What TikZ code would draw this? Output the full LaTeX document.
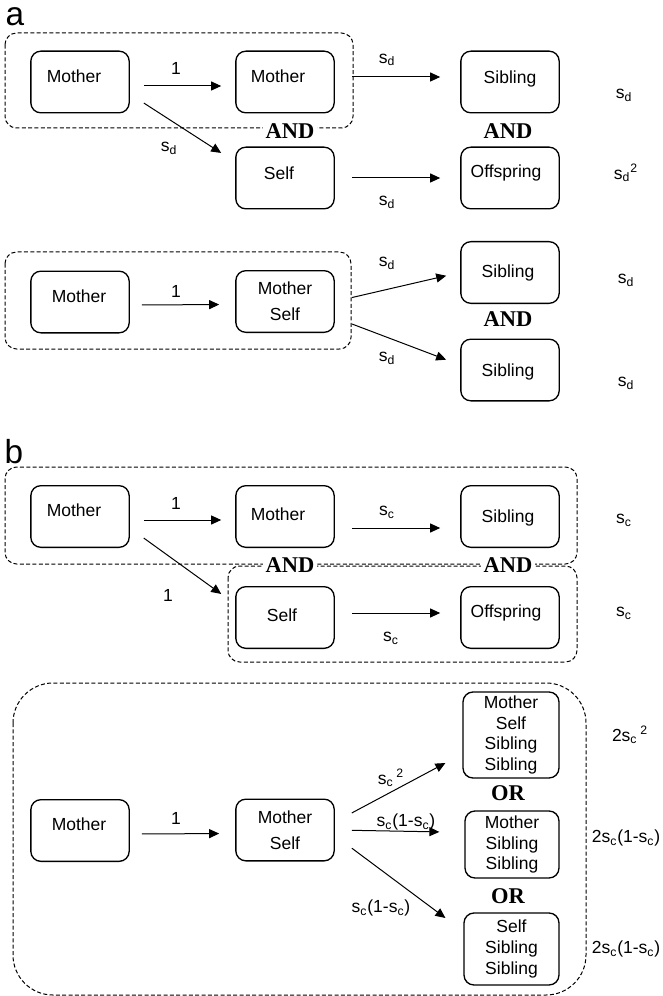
\documentclass[tikz,border=0pt]{standalone}
\usepackage{fontspec}
\setmainfont{Liberation Sans}
\newfontfamily\gatefont{Liberation Serif}
\usetikzlibrary{arrows.meta}
\tikzset{
  box/.style={draw, rounded corners=6pt, line width=0.8pt, minimum width=59pt, minimum height=37pt, inner sep=0pt, align=center},
  group/.style={draw, line width=0.6pt, dash pattern=on 2.4pt off 1.4pt, rounded corners=7pt},
  flow/.style={line width=0.6pt, -{Triangle[length=6pt,width=5.4pt]}},
  gate/.style={fill=white, inner sep=1.5pt, font=\gatefont\bfseries\fontsize{13.5}{15}\selectfont},
  panel/.style={inner sep=0pt, font=\fontsize{20}{24}\selectfont},
}
\newcommand{\sdd}{s\textsubscript{d}}
\newcommand{\scc}{s\textsubscript{c}}
\begin{document}
\begin{tikzpicture}[x=0.6pt, y=-0.6pt, font=\fontsize{10.5}{12.5}\selectfont]
\useasboundingbox (0,0) rectangle (662,996);
% Panel a
\node[panel] (pa) at (15,17) {a};
% Groups of panel a
\draw[group] (5,33) rectangle (353,128);
\draw[group] (5,252) rectangle (351,349);
% Boxes, first case
\node[box] (aM1) at (80,82) {};
\node (aM1t) at (74,76) {Mother};
\node[box] (aM2) at (285,82) {};
\node (aM2t) at (278,76) {Mother};
\node[box] (aSib) at (510,82) {};
\node (aSibt) at (510,79) {Sibling};
\node[box] (aSelf) at (285,178) {};
\node (aSelft) at (279,173) {Self};
\node[box] (aOff) at (510,178) {};
\node (aOfft) at (506,173) {Offspring};
% Boxes, second case
\node[box] (aM3) at (80,302) {};
\node (aM3t) at (79,296) {Mother};
\node[box] (aMS) at (285,301.5) {Mother\\[3pt]Self};
\node[box] (aSib2) at (510,272.5) {};
\node (aSib2t) at (508,273) {Sibling};
\node[box] (aSib3) at (510,370) {};
\node (aSib3t) at (508,372) {Sibling};
% Edges of panel a
\draw[flow, shorten <=8.4pt, shorten >=8.4pt] ([yshift=-2.4pt]aM1.east) -- ([yshift=-2.4pt]aM2.west);
\draw[flow, shorten <=10pt, shorten >=10pt] ([yshift=-7.2pt]aM1.east) -- ([yshift=9.6pt]aSelf.west);
\draw[flow, shorten <=10.2pt, shorten >=12pt] ([yshift=3pt]aM2.east) -- ([yshift=3pt]aSib.west);
\draw[flow, shorten <=10.2pt, shorten >=12pt] (aSelf.east) -- (aOff.west);
\draw[flow, shorten <=7.2pt, shorten >=9.6pt] ([yshift=-1.8pt]aM3.east) -- ([yshift=-1.8pt]aMS.west);
\draw[flow, shorten <=10.5pt, shorten >=8.6pt] (aMS.east) -- (aSib2.west);
\draw[flow, shorten <=11pt, shorten >=9pt] ([yshift=-9.6pt]aMS.east) -- ([yshift=3pt]aSib3.west);
% Edge labels and probabilities of panel a
\node (la1) at (176,68) {1};
\node (la2) at (169,148) {\sdd};
\node (la3) at (387,60) {\sdd};
\node (la4) at (387,202) {\sdd};
\node (la5) at (176,291) {1};
\node (la6) at (387,263) {\sdd};
\node (la7) at (387,358) {\sdd};
\node (pa1) at (624,95) {\sdd};
\node (pa2) at (626,173) {\sdd\textsuperscript{2}};
\node (pa3) at (626,280) {\sdd};
\node (pa4) at (626,383) {\sdd};
\node[gate] (ga1) at (290,131) {AND};
\node[gate] (ga2) at (508,131) {AND};
\node[gate] (ga3) at (508,319) {AND};
%
% Panel b
\node[panel] (pb) at (14,452) {b};
\draw[group] (5,467) rectangle (577,564);
\draw[group] (228,566) rectangle (577,662);
\draw[group, rounded corners=24pt] (13,683) rectangle (586,995);
% Boxes, first case
\node[box] (bM1) at (80,516.5) {};
\node (bM1t) at (74,510) {Mother};
\node[box] (bM2) at (285,516.5) {};
\node (bM2t) at (278,514) {Mother};
\node[box] (bSib) at (510,516.5) {};
\node (bSibt) at (508,518) {Sibling};
\node[box] (bSelf) at (285,617.5) {};
\node (bSelft) at (282,615) {Self};
\node[box] (bOff) at (510,617.5) {};
\node (bOfft) at (506,613) {Offspring};
% Boxes, second case
\node[box] (bM3) at (80,830.5) {};
\node (bM3t) at (79,824) {Mother};
\node[box] (bMS) at (285,830) {Mother\\[3pt]Self};
\node[box, minimum width=57.6pt, minimum height=51.6pt] (bT) at (511,735) {Mother\\Self\\Sibling\\Sibling};
\node[box, minimum width=56.4pt, minimum height=40.2pt] (bMd) at (512,844.5) {Mother\\Sibling\\Sibling};
\node[box, minimum width=57pt, minimum height=43.2pt] (bB) at (511.5,949) {Self\\Sibling\\Sibling};
% Edges of panel b
\draw[flow, shorten <=8.4pt, shorten >=8.4pt] ([yshift=-2.1pt]bM1.east) -- ([yshift=-2.1pt]bM2.west);
\draw[flow, shorten <=10.2pt, shorten >=12pt] ([yshift=-6.9pt]bM2.east) -- ([yshift=-6.9pt]bSib.west);
\draw[flow, shorten <=10.3pt, shorten >=10.3pt] ([yshift=-6.9pt]bM1.east) -- ([yshift=8.1pt]bSelf.west);
\draw[flow, shorten <=10.2pt, shorten >=12pt] ([yshift=2.7pt]bSelf.east) -- ([yshift=2.7pt]bOff.west);
\draw[flow, shorten <=7.2pt, shorten >=9.6pt] ([yshift=-2.1pt]bM3.east) -- ([yshift=-2.1pt]bMS.west);
\draw[flow, shorten <=11.5pt, shorten >=11.5pt] ([yshift=4.8pt]bMS.east) -- ([yshift=-11.4pt]bT.west);
\draw[flow, shorten <=10.2pt, shorten >=15pt] (bMS.east) -- ([yshift=7.3pt]bMd.west);
\draw[flow, shorten <=12.7pt, shorten >=13.4pt] ([yshift=-3.3pt]bMS.east) -- ([yshift=10.6pt]bB.west);
% Edge labels and probabilities of panel b
\node (lb1) at (176,503) {1};
\node (lb2) at (387,512) {\scc};
\node (lb3) at (168,595) {1};
\node (lb4) at (391,638) {\scc};
\node (lb5) at (176,818) {1};
\node (lb6) at (391,778) {\scc\,\textsuperscript{2}};
\node (lb7) at (406,822) {\scc(1-\scc)};
\node (lb8) at (381,908) {\scc(1-\scc)};
\node (pb1) at (624,520) {\scc};
\node (pb2) at (624,613) {\scc};
\node (pb3) at (630,735) {2\scc\,\textsuperscript{2}};
\node (pb4) at (626,838) {2\scc(1-\scc)};
\node (pb5) at (626,949) {2\scc(1-\scc)};
\node[gate] (gb1) at (290,565) {AND};
\node[gate] (gb2) at (508,565) {AND};
\node[gate] (gb3) at (508,793) {OR};
\node[gate] (gb4) at (508,896) {OR};
\end{tikzpicture}
\end{document}
